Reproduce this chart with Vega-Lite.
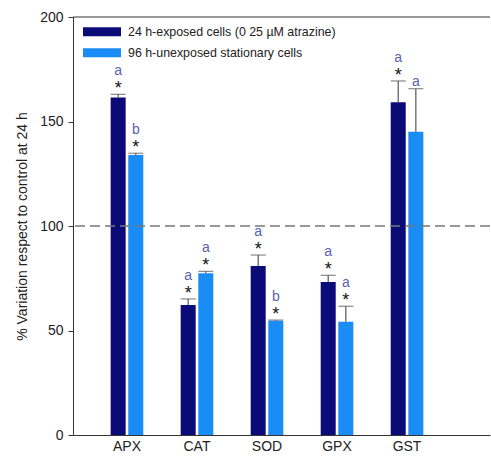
{
  "$schema": "https://vega.github.io/schema/vega-lite/v6.json",
  "width": 417,
  "height": 418,
  "autosize": "none",
  "padding": {"left": 73, "top": 17, "right": 1, "bottom": 22},
  "config": {"font": "Liberation Sans", "view": {"stroke": null}},
  "datasets": {
    "bars": [
      {"enzyme": "APX", "group": "24 h-exposed cells (0 25 µM atrazine)", "value": 161.5, "top": 163.0, "letter": "a", "star": "*"},
      {"enzyme": "APX", "group": "96 h-unexposed stationary cells", "value": 134.0, "top": 134.8, "letter": "b", "star": "*"},
      {"enzyme": "CAT", "group": "24 h-exposed cells (0 25 µM atrazine)", "value": 62.2, "top": 65.1, "letter": "a", "star": "*"},
      {"enzyme": "CAT", "group": "96 h-unexposed stationary cells", "value": 77.4, "top": 78.3, "letter": "a", "star": "*"},
      {"enzyme": "SOD", "group": "24 h-exposed cells (0 25 µM atrazine)", "value": 80.9, "top": 86.1, "letter": "a", "star": "*"},
      {"enzyme": "SOD", "group": "96 h-unexposed stationary cells", "value": 54.7, "top": 55.0, "letter": "b", "star": "*"},
      {"enzyme": "GPX", "group": "24 h-exposed cells (0 25 µM atrazine)", "value": 73.2, "top": 76.4, "letter": "a", "star": "*"},
      {"enzyme": "GPX", "group": "96 h-unexposed stationary cells", "value": 54.2, "top": 61.6, "letter": "a", "star": "*"},
      {"enzyme": "GST", "group": "24 h-exposed cells (0 25 µM atrazine)", "value": 159.2, "top": 169.4, "letter": "a", "star": "*"},
      {"enzyme": "GST", "group": "96 h-unexposed stationary cells", "value": 145.1, "top": 165.7, "letter": "a", "star": "none"}
    ]
  },
  "data": {"name": "bars"},
  "layer": [
    {
      "mark": {"type": "bar"},
      "encoding": {
        "x": {"field": "enzyme", "type": "nominal", "sort": ["APX", "CAT", "SOD", "GPX", "GST"],
          "scale": {"paddingInner": 0.534, "paddingOuter": 0.745, "align": 0.361},
          "axis": {"title": null, "labelAngle": 0, "ticks": false, "labelFontSize": 14, "labelColor": "#222", "domainColor": "#333", "labelPadding": 4}},
        "xOffset": {"field": "group", "type": "nominal", "sort": ["24 h-exposed cells (0 25 µM atrazine)", "96 h-unexposed stationary cells"],
          "scale": {"paddingInner": 0.148, "paddingOuter": 0}},
        "y": {"field": "value", "type": "quantitative", "scale": {"domain": [0, 200], "nice": false},
          "axis": {"title": "% Variation respect to control at 24 h", "titleFontSize": 14, "titleFontWeight": "normal", "titleColor": "#222",
            "values": [0, 50, 100, 150, 200], "labelFontSize": 14, "labelColor": "#222", "grid": false, "tickSize": 5,
            "domainColor": "#333", "tickColor": "#333", "labelPadding": 5, "titlePadding": 10}},
        "color": {"field": "group", "type": "nominal", "sort": ["24 h-exposed cells (0 25 µM atrazine)", "96 h-unexposed stationary cells"],
          "scale": {"range": ["#0b0b78", "#1a8cf5"]},
          "legend": {"orient": "none", "legendX": 10, "legendY": 5, "title": null, "padding": 0,
            "symbolType": "M-1,-0.237H1V0.237H-1Z", "symbolSize": 1444, "symbolStrokeWidth": 0, "symbolOpacity": 1,
            "labelFontSize": 12.4, "labelColor": "#222", "labelOffset": 7, "rowPadding": 1, "clipHeight": 19.5, "labelLimit": 400}}
      }
    },
    {
      "mark": {"type": "rule", "color": "#555", "strokeWidth": 1.2},
      "encoding": {
        "x": {"field": "enzyme", "type": "nominal", "sort": ["APX", "CAT", "SOD", "GPX", "GST"]},
        "xOffset": {"field": "group", "type": "nominal", "sort": ["24 h-exposed cells (0 25 µM atrazine)", "96 h-unexposed stationary cells"]},
        "y": {"field": "value", "type": "quantitative"},
        "y2": {"field": "top"}
      }
    },
    {
      "mark": {"type": "tick", "color": "#555", "size": 15, "thickness": 1.2},
      "encoding": {
        "x": {"field": "enzyme", "type": "nominal", "sort": ["APX", "CAT", "SOD", "GPX", "GST"]},
        "xOffset": {"field": "group", "type": "nominal", "sort": ["24 h-exposed cells (0 25 µM atrazine)", "96 h-unexposed stationary cells"]},
        "y": {"field": "top", "type": "quantitative"}
      }
    },
    {
      "transform": [{"filter": {"field": "star", "equal": "*"}}],
      "mark": {"type": "text", "fontSize": 18, "baseline": "alphabetic", "dy": 0, "color": "#111"},
      "encoding": {
        "x": {"field": "enzyme", "type": "nominal", "sort": ["APX", "CAT", "SOD", "GPX", "GST"]},
        "xOffset": {"field": "group", "type": "nominal", "sort": ["24 h-exposed cells (0 25 µM atrazine)", "96 h-unexposed stationary cells"]},
        "y": {"field": "top", "type": "quantitative"},
        "text": {"field": "star"}
      }
    },
    {
      "transform": [{"filter": {"field": "star", "equal": "*"}}],
      "mark": {"type": "text", "fontSize": 14, "baseline": "alphabetic", "dy": -19, "color": "#5a5fb0"},
      "encoding": {
        "x": {"field": "enzyme", "type": "nominal", "sort": ["APX", "CAT", "SOD", "GPX", "GST"]},
        "xOffset": {"field": "group", "type": "nominal", "sort": ["24 h-exposed cells (0 25 µM atrazine)", "96 h-unexposed stationary cells"]},
        "y": {"field": "top", "type": "quantitative"},
        "text": {"field": "letter"}
      }
    },
    {
      "transform": [{"filter": {"field": "star", "equal": "none"}}],
      "mark": {"type": "text", "fontSize": 14, "baseline": "alphabetic", "dy": -3, "color": "#5a5fb0"},
      "encoding": {
        "x": {"field": "enzyme", "type": "nominal", "sort": ["APX", "CAT", "SOD", "GPX", "GST"]},
        "xOffset": {"field": "group", "type": "nominal", "sort": ["24 h-exposed cells (0 25 µM atrazine)", "96 h-unexposed stationary cells"]},
        "y": {"field": "top", "type": "quantitative"},
        "text": {"field": "letter"}
      }
    },
    {
      "data": {"values": [{"ref": 100}]},
      "mark": {"type": "rule", "color": "#777", "strokeWidth": 1.5, "strokeDash": [10, 5]},
      "encoding": {"y": {"field": "ref", "type": "quantitative"}}
    },
    {
      "data": {"values": [{"ref": 200}]},
      "mark": {"type": "rule", "color": "#333", "strokeWidth": 1},
      "encoding": {"y": {"field": "ref", "type": "quantitative"}}
    }
  ]
}
